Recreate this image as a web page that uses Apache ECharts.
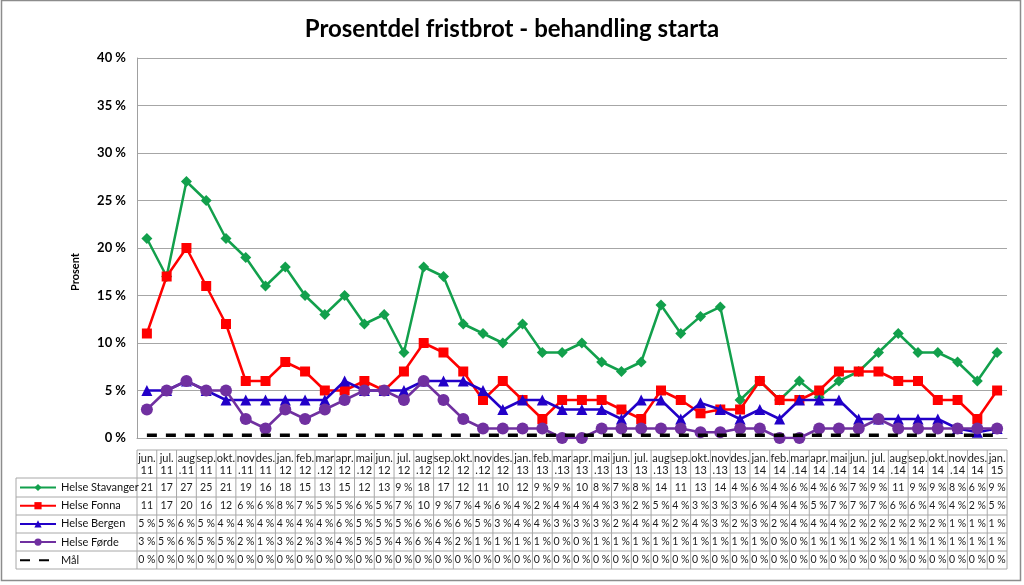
<!DOCTYPE html>
<html>
<head>
<meta charset="utf-8">
<script src="https://cdn.jsdelivr.net/npm/echarts@6/dist/echarts.min.js"></script>
<style>
html,body{margin:0;padding:0;background:#fff;}
#c{width:1024px;height:585px;}
</style>
</head>
<body>
<div id="c"></div>
<script>
const categories = ["jun.\n11","jul.\n11","aug\n.11","sep.\n11","okt.\n11","nov\n.11","des.\n11",
"jan.\n12","feb.\n12","mar\n.12","apr.\n12","mai\n.12","jun.\n12","jul.\n12","aug\n.12","sep.\n12","okt.\n12","nov\n.12","des.\n12",
"jan.\n13","feb.\n13","mar\n.13","apr.\n13","mai\n.13","jun.\n13","jul.\n13","aug\n.13","sep.\n13","okt.\n13","nov\n.13","des.\n13",
"jan.\n14","feb.\n14","mar\n.14","apr.\n14","mai\n.14","jun.\n14","jul.\n14","aug\n.14","sep.\n14","okt.\n14","nov\n.14","des.\n14",
"jan.\n15"];
const stavanger = [21,17,27,25,21,19,16, 18,15,13,15,12,13,9,18,17,12,11,10, 12,9,9,10,8,7,8,14,11,12.8,13.8,4, 6,4,6,4.3,6,7,9,11,9,9,8,6, 9];
const fonna = [11,17,20,16,12,6,6, 8,7,5,5,6,5,7,10,9,7,4,6, 4,2,4,4,4,3,2,5,4,2.6,3,3, 6,4,4,5,7,7,7,6,6,4,4,2, 5];
const bergen = [5,5,6,5,4,4,4, 4,4,4,6,5,5,5,6,6,6,5,3, 4,4,3,3,3,2,4,4,2,3.7,3,2, 3,2,4,4,4,2,2,2,2,2,1,0.6, 1];
const forde = [3,5,6,5,5,2,1, 3,2,3,4,5,5,4,6,4,2,1,1, 1,1,0,0,1,1,1,1,1,0.6,0.6,1, 1,0,0,1,1,1,2,1,1,1,1,1, 1];
const maal = [0.3,0.3,0.3,0.3,0.3,0.3,0.3, 0.3,0.3,0.3,0.3,0.3,0.3,0.3,0.3,0.3,0.3,0.3,0.3, 0.3,0.3,0.3,0.3,0.3,0.3,0.3,0.3,0.3,0.3,0.3,0.3, 0.3,0.3,0.3,0.3,0.3,0.3,0.3,0.3,0.3,0.3,0.3,0.3, 0.3];
const seriesNames = ["Helse Stavanger","Helse Fonna","Helse Bergen","Helse Førde","Mål"];
const yTicks = [0,5,10,15,20,25,30,35,40];

const FONT = 'Lato, "Open Sans", sans-serif';
const colors = ['#12a04c','#ff0000','#2200c8','#7030a0','#000000'];
const allData = [stavanger, fonna, bergen, forde, maal];
const symbols = ['diamond','rect','triangle','circle','none'];
const symSizes = [11,10,11,12,0];

const chart = echarts.init(document.getElementById('c'), null, {renderer:'canvas'});
const series = seriesNames.map((n,i)=>({
  name:n, type:'line', data:allData[i],
  symbol:symbols[i], symbolSize:symSizes[i],
  showSymbol: i<4,
  itemStyle:{color:colors[i]},
  lineStyle: i===4 ? {color:'#000',width:3.5,type:[10,9]} : {color:colors[i],width:2.5},
  z: 2+i, animation:false
}));

const legendData = seriesNames.map((n,i)=> i===4 ? {name:n, itemStyle:{opacity:0}} : {name:n});

chart.setOption({
  animation:false,
  title:{text:'Prosentdel fristbrot - behandling starta', left:'center', top:12,
    textStyle:{fontFamily:FONT, fontWeight:'bold', fontSize:24, color:'#000'}},
  grid:{left:137, right:17, top:58, bottom:147},
  xAxis:{type:'category', data:categories, boundaryGap:true,
    axisLine:{lineStyle:{color:'#a0a0a0'}}, axisTick:{show:false}, axisLabel:{show:false}},
  yAxis:{type:'value', min:yTicks[0], max:yTicks[yTicks.length-1], interval:5,
    name:'Prosent', nameLocation:'middle', nameGap:56,
    nameTextStyle:{fontFamily:FONT, fontWeight:'bold', fontSize:11, color:'#000', padding:[0,48,0,0]},
    axisLine:{show:true, lineStyle:{color:'#a0a0a0'}}, axisTick:{show:false},
    axisLabel:{formatter:'{value} %', fontFamily:FONT, fontWeight:'bold', fontSize:13, color:'#000', margin:11},
    splitLine:{lineStyle:{color:'#a6a6a6'}}},
  legend:{orient:'vertical', left:19, top:482, padding:0, itemGap:7.2, itemWidth:36, itemHeight:9,
    data:legendData, selectedMode:false,
    textStyle:{fontFamily:FONT, fontSize:11, color:'#111'}},
  series:series
});

// data table drawn below the axis
const centers = categories.map((c,i)=>chart.convertToPixel({xAxisIndex:0}, i));
const step = centers[1]-centers[0];
const xLeft = centers[0]-step/2, xRight = centers[centers.length-1]+step/2;
const headTop = 450, rowTops = [478,497,515,533,551,569];
const g = [];
const lineColor = '#a8a8a8';
g.push({type:'rect', shape:{x:1.5,y:0.5,width:1019,height:580}, style:{fill:null, stroke:'#8c8c8c', lineWidth:1.5}, silent:true});
g.push({type:'line', shape:{x1:xLeft,y1:headTop,x2:xRight,y2:headTop}, style:{stroke:lineColor}, silent:true});
rowTops.forEach(y=>g.push({type:'line', shape:{x1:16,y1:y,x2:xRight,y2:y}, style:{stroke:lineColor}, silent:true}));
g.push({type:'line', shape:{x1:16,y1:rowTops[0],x2:16,y2:rowTops[5]}, style:{stroke:lineColor}, silent:true});
for(let i=0;i<=categories.length;i++){
  const x = xLeft + i*step;
  g.push({type:'line', shape:{x1:x,y1:headTop,x2:x,y2:rowTops[5]}, style:{stroke:lineColor}, silent:true});
}
function fmt(v){ const r=Math.round(v); return r>=10 ? String(r) : r+' %'; }
categories.forEach((c,i)=>{
  g.push({type:'text', x:centers[i], y:(headTop+rowTops[0])/2, silent:true,
    style:{text:c, align:'center', verticalAlign:'middle', fontFamily:FONT, fontSize:11, lineHeight:12, fill:'#1a1a1a'}});
  allData.forEach((arr,k)=>{
    const val = k===4 ? 0 : arr[i];
    g.push({type:'text', x:centers[i], y:(rowTops[k]+rowTops[k+1])/2, silent:true,
      style:{text:fmt(val), align:'center', verticalAlign:'middle', fontFamily:FONT, fontSize:10.5, fill:'#1a1a1a'}});
  });
});
chart.setOption({graphic:g});
</script>
</body>
</html>
